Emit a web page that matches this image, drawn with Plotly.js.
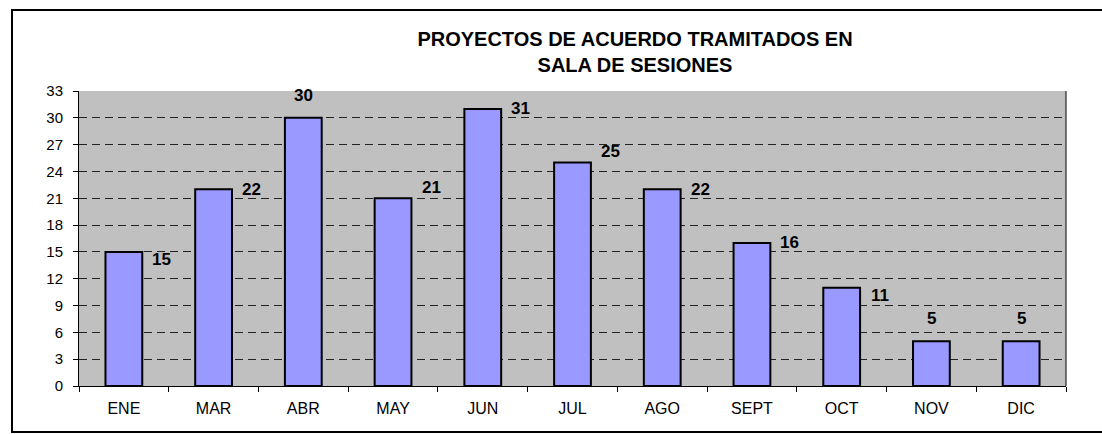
<!DOCTYPE html>
<html>
<head>
<meta charset="utf-8">
<script src="https://cdn.plot.ly/plotly-3.0.1.min.js"></script>
<style>html,body{margin:0;padding:0;background:#fff;}#chart{width:1102px;height:434px;}</style>
</head>
<body>
<div id="chart"></div>
<script>
const months = ['ENE','MAR','ABR','MAY','JUN','JUL','AGO','SEPT','OCT','NOV','DIC'];
const proyectos = [15, 22, 30, 21, 31, 25, 22, 16, 11, 5, 5];
const yTicks = [0, 3, 6, 9, 12, 15, 18, 21, 24, 27, 30, 33];
const labelPlacement = ['rightDown','right','above','rightUp','right','rightUp','right','right','rightDown','above','above'];

const FONT = 'Liberation Sans, Arial, sans-serif';

const trace = {
  type: 'bar',
  x: months,
  y: proyectos,
  width: 0.41,
  marker: { color: '#9999FF', line: { color: '#000000', width: 2 } },
  hoverinfo: 'x+y'
};

const annotations = months.map((m, i) => {
  const p = labelPlacement[i];
  const a = {
    x: m, y: proyectos[i], xref: 'x', yref: 'y',
    text: '<b>' + proyectos[i] + '</b>', showarrow: false,
    font: { family: FONT, size: 17, color: '#000' }
  };
  if (p === 'above') {
    a.xanchor = 'center'; a.yanchor = 'bottom'; a.yshift = 11;
  } else {
    a.xanchor = 'center'; a.yanchor = 'middle'; a.xshift = 38;
    a.yshift = p === 'rightUp' ? 11 : (p === 'rightDown' ? -8 : 0);
  }
  return a;
});

const layout = {
  width: 1102, height: 434,
  margin: { l: 79, r: 36, t: 91, b: 48 },
  paper_bgcolor: '#ffffff',
  plot_bgcolor: '#C0C0C0',
  showlegend: false,
  bargap: 0.59,
  title: {
    text: 'PROYECTOS DE ACUERDO TRAMITADOS EN<br>SALA DE SESIONES',
    font: { family: FONT, size: 20, color: '#000', weight: 'bold' },
    xref: 'container', yref: 'container',
    x: 635 / 1102, xanchor: 'center',
    y: 1 - 46 / 434, yanchor: 'top'
  },
  xaxis: {
    type: 'category',
    showline: true, linecolor: '#000', linewidth: 1,
    ticks: 'outside', tickson: 'boundaries', ticklen: 5, tickcolor: '#000', tickwidth: 1,
    ticklabelstandoff: 8,
    showgrid: false, zeroline: false,
    tickfont: { family: FONT, size: 16, color: '#000' }
  },
  yaxis: {
    range: [0, 33],
    tickvals: yTicks,
    showline: true, linecolor: '#000', linewidth: 1,
    ticks: 'outside', ticklen: 5, tickcolor: '#000', tickwidth: 1,
    ticklabelstandoff: 7,
    showgrid: true, gridcolor: '#222', gridwidth: 1, griddash: '8px,5px',
    zeroline: false,
    tickfont: { family: FONT, size: 15, color: '#000' }
  },
  annotations: annotations,
  shapes: [
    { type: 'line', xref: 'paper', yref: 'paper', x0: 1, x1: 1, y0: 0, y1: 1,
      line: { color: '#000', width: 1 } },
    { type: 'rect', xref: 'paper', yref: 'paper',
      x0: (12 - 79) / 987, x1: (1110 - 79) / 987,
      y0: (386 - 432) / 295, y1: (386 - 10) / 295,
      line: { color: '#000', width: 2 }, fillcolor: 'rgba(0,0,0,0)' }
  ]
};

Plotly.newPlot('chart', [trace], layout, { staticPlot: true, displayModeBar: false });
</script>
</body>
</html>
